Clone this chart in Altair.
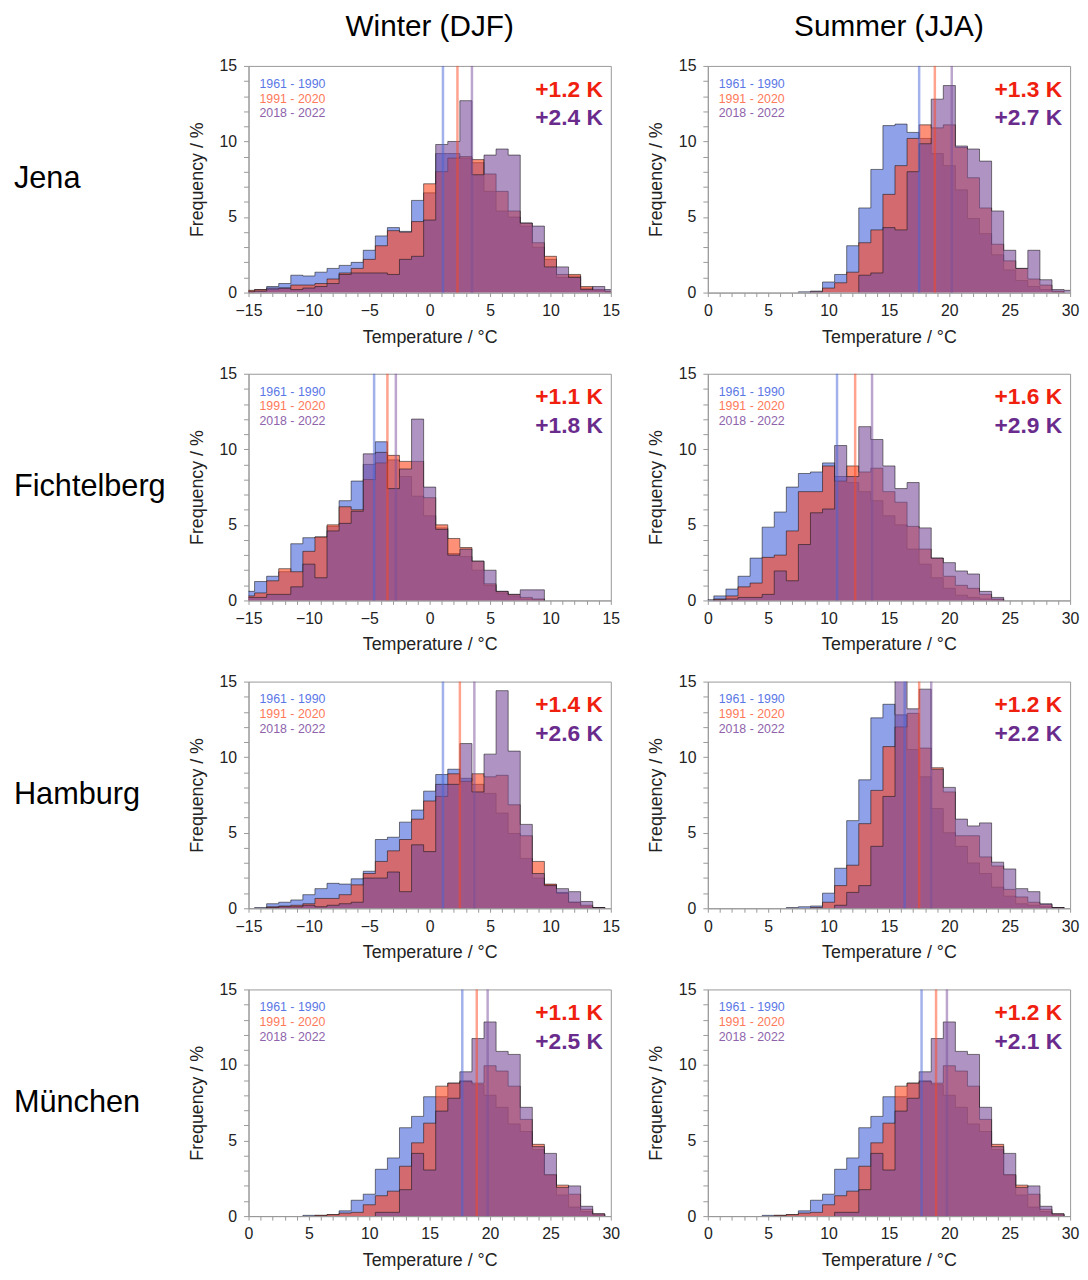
import altair as alt
import pandas as pd

# ------------------------------------------------------------------ data
SERIES = ["1961 - 1990", "1991 - 2020", "2018 - 2022"]
STATIONS = ["Jena", "Fichtelberg", "Hamburg", "München"]
SEASONS = ["Winter (DJF)", "Summer (JJA)"]

# frequency (%) per 1 °C bin, bins centred on integers, first centre = *_START
JENA_DJF_START = -15
JENA_DJF_RANGE = [-15, 15]
JENA_DJF_P1 = [0.1, 0.2, 0.4, 0.6, 1.15, 1.1, 1.35, 1.6, 1.8, 2.0, 2.8, 3.75, 4.3, 4.05, 6.1, 6.6,
               9.2, 9.2, 8.9, 8.6, 6.7, 5.4, 5.0, 4.4, 3.0, 2.2, 1.0, 1.1, 0.3, 0.15, 0.05]
JENA_DJF_P2 = [0.15, 0.2, 0.2, 0.3, 0.5, 0.5, 0.6, 0.9, 1.3, 1.6, 2.2, 3.1, 4.1, 4.0, 4.7, 7.2,
               8.0, 8.9, 9.0, 8.8, 7.85, 6.7, 5.4, 4.6, 3.3, 2.4, 1.2, 1.2, 0.4, 0.2, 0.1]
JENA_DJF_P3 = [0.05, 0.1, 0.3, 0.3, 0.2, 0.3, 0.4, 0.6, 1.2, 1.3, 1.3, 1.3, 1.2, 2.2, 2.4, 4.8,
               9.8, 10.0, 12.7, 7.8, 9.1, 9.5, 9.1, 4.6, 4.4, 1.7, 1.7, 1.0, 0.2, 0.4, 0.2]
JENA_DJF_MEANS = [1.1, 2.3, 3.5]
JENA_DJF_DELTA = ["+1.2 K", "+2.4 K"]

JENA_JJA_START = 8
JENA_JJA_RANGE = [0, 30]
JENA_JJA_P1 = [0.05, 0.1, 0.7, 1.2, 3.1, 5.6, 8.15, 11.05, 11.15, 10.6, 10.2, 9.2, 8.4, 6.8,
               4.9, 3.9, 2.5, 1.5, 0.8, 0.4, 0.2, 0.05, 0]
JENA_JJA_P2 = [0, 0.05, 0.3, 0.65, 1.35, 3.3, 4.15, 6.5, 8.4, 10.2, 11.1, 10.9, 11.1, 9.6,
               7.6, 5.6, 3.2, 2.1, 1.6, 0.9, 0.5, 0.1, 0]
JENA_JJA_P3 = [0, 0, 0, 0, 0, 1.15, 1.3, 4.3, 4.15, 8.0, 9.85, 12.8, 13.7, 9.7,
               9.5, 8.7, 5.4, 2.8, 1.6, 2.8, 0.85, 0.2, 0.15]
JENA_JJA_MEANS = [17.5, 18.8, 20.2]
JENA_JJA_DELTA = ["+1.3 K", "+2.7 K"]

FICH_DJF_START = -15
FICH_DJF_RANGE = [-15, 15]
FICH_DJF_P1 = [0.6, 1.25, 1.6, 1.9, 3.75, 4.15, 4.2, 4.9, 6.6, 7.9, 9.0, 10.5, 9.3, 8.2, 6.9,
               5.6, 4.8, 3.1, 2.9, 2.0, 1.0, 0.5, 0.3, 0.1, 0.05]
FICH_DJF_P2 = [0.3, 0.5, 1.3, 2.1, 1.9, 3.25, 4.2, 5.0, 6.2, 6.0, 8.0, 9.1, 9.6, 9.2, 9.2,
               6.8, 5.0, 4.1, 3.5, 2.6, 1.1, 0.6, 0.4, 0.2, 0.1]
FICH_DJF_P3 = [0.2, 0.2, 0.4, 0.4, 0.9, 2.4, 1.5, 4.6, 5.1, 5.9, 9.7, 9.8, 7.4, 8.7, 12.0,
               7.5, 4.7, 3.0, 3.4, 2.6, 2.0, 0.6, 0.4, 0.7, 0.7]
FICH_DJF_MEANS = [-4.6, -3.5, -2.8]
FICH_DJF_DELTA = ["+1.1 K", "+1.8 K"]

FICH_JJA_START = 0
FICH_JJA_RANGE = [0, 30]
FICH_JJA_P1 = [0.05, 0.3, 0.75, 1.6, 2.8, 4.85, 5.85, 7.5, 8.4, 8.5, 9.1, 8.2, 7.8, 7.2, 6.6,
               5.6, 5.0, 3.4, 2.4, 1.5, 0.8, 0.35, 0.2, 0.1, 0.05]
FICH_JJA_P2 = [0, 0.1, 0.3, 0.9, 1.15, 2.85, 3.0, 4.6, 7.2, 7.2, 8.9, 7.9, 8.9, 8.5, 8.75,
               7.2, 6.5, 4.9, 3.4, 2.8, 1.6, 1.0, 0.8, 0.4, 0.1]
FICH_JJA_P3 = [0, 0.05, 0.1, 0.2, 0.2, 0.4, 1.95, 1.3, 3.7, 5.8, 6.05, 10.25, 8.2, 11.5, 10.65,
               8.9, 7.4, 7.8, 4.8, 2.8, 2.5, 1.95, 1.75, 0.6, 0.2]
FICH_JJA_MEANS = [10.7, 12.2, 13.6]
FICH_JJA_DELTA = ["+1.6 K", "+2.9 K"]

HAM_DJF_START = -14
HAM_DJF_RANGE = [-15, 15]
HAM_DJF_P1 = [0.05, 0.3, 0.4, 0.55, 0.9, 1.3, 1.65, 1.6, 1.95, 2.45, 4.55, 4.7, 5.7, 6.5, 7.75,
              8.85, 9.2, 8.6, 8.2, 7.6, 6.3, 4.95, 3.3, 2.0, 1.55, 1.05, 0.4, 0.1, 0.05]
HAM_DJF_P2 = [0, 0.1, 0.15, 0.2, 0.3, 0.65, 0.65, 0.9, 1.55, 2.3, 3.1, 3.8, 4.55, 5.9, 7.1,
              7.4, 8.9, 8.4, 8.9, 8.7, 8.8, 6.85, 4.8, 3.1, 1.6, 1.0, 0.4, 0.2, 0.05]
HAM_DJF_P3 = [0, 0.05, 0.1, 0.1, 0.2, 0.1, 0.2, 0.3, 0.4, 2.0, 2.0, 2.4, 1.1, 4.2, 3.75,
              8.2, 8.2, 10.9, 7.7, 10.2, 14.4, 10.4, 5.55, 2.3, 1.5, 1.3, 1.1, 0.45, 0.05]
HAM_DJF_MEANS = [1.1, 2.5, 3.7]
HAM_DJF_DELTA = ["+1.4 K", "+2.6 K"]

HAM_JJA_START = 7
HAM_JJA_RANGE = [0, 30]
HAM_JJA_P1 = [0.05, 0.1, 0.15, 1.0, 2.65, 5.8, 8.5, 12.6, 13.5, 12.8, 10.5, 8.7, 6.6, 5.0,
              4.1, 3.0, 2.3, 1.4, 0.8, 0.3, 0.2, 0.1, 0.05]
HAM_JJA_P2 = [0, 0, 0.05, 0.4, 1.5, 2.85, 5.6, 7.8, 10.7, 12.0, 12.9, 10.6, 9.3, 7.7,
              4.8, 4.8, 3.4, 2.8, 1.25, 0.75, 0.4, 0.25, 0.05]
HAM_JJA_P3 = [0, 0, 0, 0, 0.2, 1.05, 1.5, 4.1, 7.4, 15.8, 13.2, 14.5, 9.2, 8.0,
              5.9, 5.45, 5.65, 3.05, 2.6, 1.3, 1.1, 0.3, 0.05]
HAM_JJA_MEANS = [16.3, 17.5, 18.5]
HAM_JJA_DELTA = ["+1.2 K", "+2.2 K"]

MUC_JJA_START = 5
MUC_JJA_RANGE = [0, 30]
MUC_JJA_P1 = [0.05, 0.05, 0.1, 0.35, 1.05, 1.45, 3.1, 3.85, 5.85, 6.6, 7.9, 7.9, 8.8, 8.95,
              8.7, 8.0, 7.2, 6.1, 5.6, 4.4, 2.7, 1.4, 0.6, 0.3, 0.05]
MUC_JJA_P2 = [0, 0.05, 0.1, 0.2, 0.25, 0.75, 1.35, 1.65, 3.3, 4.85, 6.15, 8.6, 8.8, 8.9,
              8.8, 9.95, 9.6, 8.6, 6.4, 4.75, 2.75, 2.05, 1.45, 0.45, 0.15]
MUC_JJA_P3 = [0, 0, 0, 0, 0, 0, 0.25, 0.25, 1.75, 4.15, 3.05, 6.95, 7.8, 9.55,
              11.75, 12.85, 10.9, 10.7, 7.2, 4.6, 4.15, 1.9, 2.0, 0.65, 0.15]
MUC_JJA_MEANS = [17.7, 18.9, 19.8]
MUC_JJA_DELTA = ["+1.2 K", "+2.1 K"]

# the winter panel for München in the original shows the same histograms as summer
MUC_DJF_START = MUC_JJA_START
MUC_DJF_RANGE = [0, 30]
MUC_DJF_P1 = list(MUC_JJA_P1)
MUC_DJF_P2 = list(MUC_JJA_P2)
MUC_DJF_P3 = list(MUC_JJA_P3)
MUC_DJF_MEANS = [17.7, 18.9, 19.8]
MUC_DJF_DELTA = ["+1.1 K", "+2.5 K"]

# ------------------------------------------------------------------ style
W, H = 366, 229
FILL = ["#4563d8", "#ff461e", "#7a4d9b"]
LEGEND_COL = ["#5b77e6", "#ff7a5a", "#8e63ab"]
DELTA_COL = ["#f0200f", "#6a2c8c"]
FONT = "Liberation Sans"
GREY = "#999999"


def steps(start, vals):
    nz = [k for k, v in enumerate(vals) if v > 0]
    a, b = nz[0], nz[-1]
    pts = [(start + k - 0.5, vals[k]) for k in range(a, b + 1)]
    end = [(start + b + 0.5, 0.0)]
    area = pd.DataFrame(pts + end, columns=["x", "y"])
    line = pd.DataFrame([(start + a - 0.5, 0.0)] + pts + end, columns=["x", "y"])
    line["i"] = range(len(line))
    return area, line


def text_layer(txt, px, py, **kw):
    return alt.Chart(pd.DataFrame({"t": [txt]})).mark_text(font=FONT, **kw).encode(
        text="t:N", x=alt.value(px), y=alt.value(py))


def axis(values, tick, pad, tpad):
    return alt.Axis(values=values, format="d",
                    labelExpr="datum.value % 5 === 0 ? datum.label : ''",
                    tickSize=tick, labelPadding=pad, labelFontSize=16,
                    titleFontSize=18, titleFontWeight="normal", titlePadding=tpad,
                    labelFlush=False, labelOverlap=False, grid=False,
                    domainColor=GREY, tickColor=GREY,
                    labelColor="#222222", titleColor="#222222")


def panel(start, p1, p2, p3, means, deltas, xr, station=None, season=None):
    lo, hi = xr
    X = alt.X("x:Q", title="Temperature / °C",
              scale=alt.Scale(domain=[lo, hi], nice=False, zero=False),
              axis=axis(list(range(lo, hi + 1)), 4, 6, 10))
    Y = alt.Y("y:Q", title="Frequency / %", stack=None,
              scale=alt.Scale(domain=[0, 15], nice=False, zero=True),
              axis=axis(list(range(0, 16)), 5, 7, 13))
    layers = []
    for vals, col in zip([p1, p2, p3], FILL):
        area, line = steps(start, vals)
        layers.append(alt.Chart(area).mark_area(
            interpolate="step-after", color=col, opacity=0.6, clip=True).encode(x=X, y=Y))
        layers.append(alt.Chart(line).mark_line(
            interpolate="step-after", color="#111111", opacity=0.55, strokeWidth=1,
            clip=True).encode(x=X, y=Y, order="i:Q"))
    for m, col in zip(means, FILL):
        layers.append(alt.Chart(pd.DataFrame({"x": [m]})).mark_rule(
            color=col, opacity=0.5, strokeWidth=2.5).encode(
            x=X, y=alt.value(0), y2=alt.value(H)))
    for k, (s, c) in enumerate(zip(SERIES, LEGEND_COL)):
        layers.append(text_layer(s, 11, 18 + 15 * k, align="left", baseline="middle",
                                 fontSize=12.5, color=c))
    layers.append(text_layer(deltas[0], W - 8, 24, align="right", baseline="middle",
                             fontSize=23, fontWeight="bold", color=DELTA_COL[0]))
    layers.append(text_layer(deltas[1], W - 8, 53, align="right", baseline="middle",
                             fontSize=23, fontWeight="bold", color=DELTA_COL[1]))
    if station:
        layers.append(text_layer(station, -237, H / 2, align="left", baseline="middle",
                                 fontSize=31, color="#000000"))
    if season:
        layers.append(text_layer(season, W / 2, -39, align="center", baseline="middle",
                                 fontSize=30, color="#000000"))
    return alt.layer(*layers).properties(width=W, height=H)


rows = [
    alt.hconcat(
        panel(JENA_DJF_START, JENA_DJF_P1, JENA_DJF_P2, JENA_DJF_P3, JENA_DJF_MEANS,
              JENA_DJF_DELTA, JENA_DJF_RANGE, STATIONS[0], SEASONS[0]),
        panel(JENA_JJA_START, JENA_JJA_P1, JENA_JJA_P2, JENA_JJA_P3, JENA_JJA_MEANS,
              JENA_JJA_DELTA, JENA_JJA_RANGE, None, SEASONS[1]),
        spacing=26),
    alt.hconcat(
        panel(FICH_DJF_START, FICH_DJF_P1, FICH_DJF_P2, FICH_DJF_P3, FICH_DJF_MEANS,
              FICH_DJF_DELTA, FICH_DJF_RANGE, STATIONS[1]),
        panel(FICH_JJA_START, FICH_JJA_P1, FICH_JJA_P2, FICH_JJA_P3, FICH_JJA_MEANS,
              FICH_JJA_DELTA, FICH_JJA_RANGE),
        spacing=26),
    alt.hconcat(
        panel(HAM_DJF_START, HAM_DJF_P1, HAM_DJF_P2, HAM_DJF_P3, HAM_DJF_MEANS,
              HAM_DJF_DELTA, HAM_DJF_RANGE, STATIONS[2]),
        panel(HAM_JJA_START, HAM_JJA_P1, HAM_JJA_P2, HAM_JJA_P3, HAM_JJA_MEANS,
              HAM_JJA_DELTA, HAM_JJA_RANGE),
        spacing=26),
    alt.hconcat(
        panel(MUC_DJF_START, MUC_DJF_P1, MUC_DJF_P2, MUC_DJF_P3, MUC_DJF_MEANS,
              MUC_DJF_DELTA, MUC_DJF_RANGE, STATIONS[3]),
        panel(MUC_JJA_START, MUC_JJA_P1, MUC_JJA_P2, MUC_JJA_P3, MUC_JJA_MEANS,
              MUC_JJA_DELTA, MUC_JJA_RANGE),
        spacing=26),
]

chart = alt.vconcat(*rows, spacing=18).properties(
    padding={"left": 5, "top": -3, "right": 0, "bottom": 0}
).configure(font=FONT).configure_view(stroke=GREY, strokeWidth=1)

chart.save("out.html", embed_options={"renderer": "svg", "actions": False})
